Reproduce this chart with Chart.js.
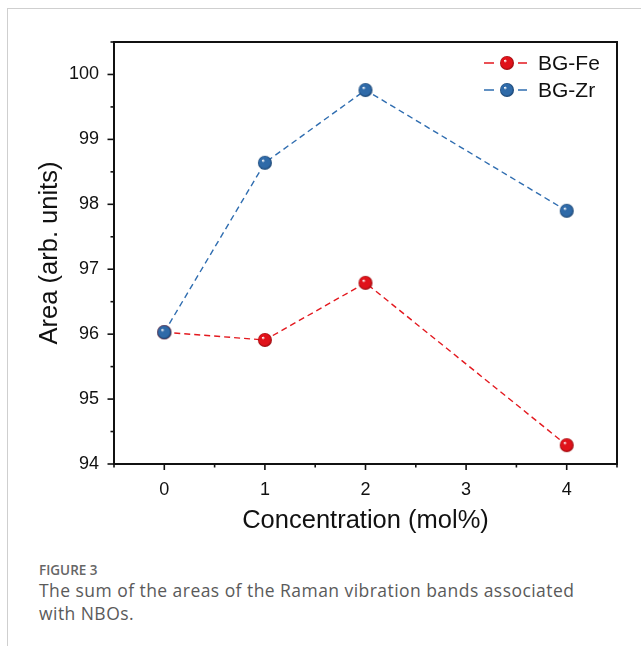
<!DOCTYPE html>
<html>
<head>
<meta charset="utf-8">
<script src="https://cdn.jsdelivr.net/npm/chart.js@4.4.1/dist/chart.umd.min.js"></script>
<style>
  html, body { margin: 0; padding: 0; background: #fff; width: 641px; height: 646px; overflow: hidden; }
  #frame { position: absolute; left: 7px; top: 8px; width: 700px; height: 700px;
           border-top: 1px solid #cfcfcf; border-left: 1px solid #cfcfcf; }
  #wrap { position: absolute; left: 0; top: 0; width: 641px; height: 545px; }
  #cap { position: absolute; left: 39px; top: 562px; width: 560px; font-family: "Open Sans", "Noto Sans", sans-serif; color: #5a5a5a; }
  #cap .fig { font-size: 13.5px; font-weight: 600; color: #666; line-height: 16px; }
  #cap .txt { font-size: 17.5px; letter-spacing: 0.45px; line-height: 23px; margin-top: 1px; }
</style>
</head>
<body>
<div id="frame"></div>
<div id="wrap"><canvas id="c" width="641" height="545"></canvas></div>
<div id="cap">
  <div class="fig">FIGURE 3</div>
  <div class="txt">The sum of the areas of the Raman vibration bands associated with NBOs.</div>
</div>
<script>
const concentrations = [0, 1, 2, 4];
const bgFe = [96.03, 95.91, 96.79, 94.29];
const bgZr = [96.03, 98.64, 99.76, 97.90];
const seriesNames = ['BG-Fe', 'BG-Zr'];
const xTickLabels = ['0', '1', '2', '3', '4'];
const yTickLabels = ['94', '95', '96', '97', '98', '99', '100'];

function sphere(base, dark, r) {
  const c = document.createElement('canvas');
  const s = r * 2 + 2;
  c.width = s; c.height = s;
  const g = c.getContext('2d');
  const cx = s / 2, cy = s / 2;
  const grad = g.createRadialGradient(cx - r * 0.3, cy - r * 0.35, r * 0.05, cx, cy, r);
  grad.addColorStop(0, '#ffffff');
  grad.addColorStop(0.22, base);
  grad.addColorStop(0.75, base);
  grad.addColorStop(1, dark);
  g.fillStyle = grad;
  g.beginPath(); g.arc(cx, cy, r, 0, Math.PI * 2); g.fill();
  return c;
}
const redBall = sphere('#e0121a', '#960a0d', 7);
const blueBall = sphere('#2f6aa8', '#17406d', 7);

const colors = ['#e3191f', '#2f6db0'];
const balls = [redBall, blueBall];
const FONT = '"Liberation Sans", Arial, sans-serif';

const frameAndTicks = {
  id: 'frameAndTicks',
  afterDraw(chart) {
    const ctx = chart.ctx;
    const a = chart.chartArea;
    const xs = chart.scales.x, ys = chart.scales.y;
    ctx.save();
    ctx.strokeStyle = '#111';
    ctx.lineWidth = 2;
    ctx.strokeRect(a.left, a.top, a.right - a.left, a.bottom - a.top);
    ctx.lineWidth = 1.6;
    for (let v = -0.5; v <= 4.5001; v += 0.5) {
      const px = xs.getPixelForValue(v);
      const major = Math.abs(v - Math.round(v)) < 1e-6;
      ctx.beginPath();
      ctx.moveTo(px, a.bottom);
      ctx.lineTo(px, a.bottom + (major ? 6 : 3.5));
      ctx.stroke();
    }
    for (let v = 94; v <= 100.5001; v += 0.5) {
      const py = ys.getPixelForValue(v);
      const major = Math.abs(v - Math.round(v)) < 1e-6;
      ctx.beginPath();
      ctx.moveTo(a.left, py);
      ctx.lineTo(a.left - (major ? 6.5 : 3.5), py);
      ctx.stroke();
    }
    // legend
    const lx = 484, ly = [63, 90];
    ctx.font = '21px ' + FONT;
    ctx.textBaseline = 'middle';
    ctx.textAlign = 'left';
    for (let i = 0; i < 2; i++) {
      ctx.strokeStyle = colors[i];
      ctx.lineWidth = 1.5;
      ctx.beginPath();
      ctx.moveTo(lx, ly[i]); ctx.lineTo(lx + 10, ly[i]);
      ctx.moveTo(lx + 34, ly[i]); ctx.lineTo(lx + 43, ly[i]);
      ctx.stroke();
      const b = balls[i];
      ctx.drawImage(b, lx + 23 - b.width / 2, ly[i] - b.height / 2);
      ctx.fillStyle = '#111';
      ctx.fillText(seriesNames[i], lx + 54, ly[i] + 1);
    }
    ctx.restore();
  }
};

const mk = (vals) => concentrations.map((x, i) => ({ x: x, y: vals[i] }));

new Chart(document.getElementById('c'), {
  type: 'line',
  data: {
    datasets: [
      { label: seriesNames[0], data: mk(bgFe), borderColor: colors[0], borderWidth: 1.4,
        borderDash: [6, 4], pointStyle: redBall, pointRadius: 7, pointHoverRadius: 7, tension: 0, order: 1 },
      { label: seriesNames[1], data: mk(bgZr), borderColor: colors[1], borderWidth: 1.4,
        borderDash: [6, 4], pointStyle: blueBall, pointRadius: 7, pointHoverRadius: 7, tension: 0, order: 0 }
    ]
  },
  options: {
    responsive: false,
    animation: false,
    events: [],
    layout: { padding: { left: 0, right: 24, top: 42, bottom: 0 } },
    plugins: { legend: { display: false }, tooltip: { enabled: false } },
    scales: {
      x: {
        type: 'linear', min: -0.5, max: 4.5,
        afterBuildTicks: (s) => { s.ticks = xTickLabels.map(t => ({ value: Number(t) })); },
        afterFit: (s) => { s.height = 81; },
        grid: { display: false, drawTicks: false },
        border: { display: false },
        ticks: { padding: 15, color: '#111', font: { size: 18, family: FONT },
                 callback: (v) => xTickLabels[xTickLabels.indexOf(String(v))] ?? '' },
        title: { display: true, text: 'Concentration (mol%)', color: '#111',
                 font: { size: 25.5, family: FONT }, padding: { top: 0, bottom: 9 } }
      },
      y: {
        type: 'linear', min: 94, max: 100.5,
        afterBuildTicks: (s) => { s.ticks = yTickLabels.map(t => ({ value: Number(t) })); },
        afterFit: (s) => { s.width = 114; },
        grid: { display: false, drawTicks: false },
        border: { display: false },
        ticks: { padding: 15, color: '#111', font: { size: 18, family: FONT },
                 callback: (v) => yTickLabels[yTickLabels.indexOf(String(v))] ?? '' },
        title: { display: true, text: 'Area (arb. units)', color: '#111',
                 font: { size: 25.5, family: FONT }, padding: { top: 35, bottom: 0 } }
      }
    }
  },
  plugins: [frameAndTicks]
});
</script>
</body>
</html>
